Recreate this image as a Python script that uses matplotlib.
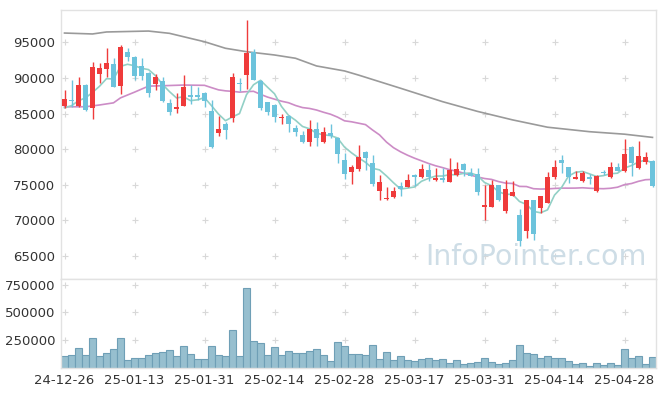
import numpy as np
import pandas as pd
import matplotlib
matplotlib.use("Agg")
import matplotlib.pyplot as plt


# trading days (KRX), 24-12-26 .. 25-05-07
HOLIDAYS = ["2024-12-31", "2025-01-01", "2025-01-27", "2025-01-28", "2025-01-29",
            "2025-01-30", "2025-03-03", "2025-05-01", "2025-05-05", "2025-05-06"]

opens = [86120, 86916, 86121, 89019, 85841, 90514, 91308, 91963, 88925, 93645,
         92944, 91682, 90654, 89112, 89580, 86448, 85654, 86121, 87617, 87570,
         87944, 85374, 82336, 83551, 84439, 89346, 90467, 93598, 89580, 86589,
         86215, 84393, 84673, 83037, 82009, 80935, 82850, 80981, 82243, 81588,
         78504, 76729, 77217, 79575, 78113, 74151, 72972, 73302, 74858, 74717,
         76368, 76038, 77075, 75613, 75896, 75424, 76368, 77925, 76604, 76462,
         71887, 71887, 74953, 71321, 73443, 70708, 68491, 72830, 71745, 72500,
         76038, 78491, 77453, 75849, 75566, 76038, 74057, 76792, 76038, 77453,
         76981, 80283, 77405, 78160, 78302]
highs = [88318, 89720, 90187, 89159, 92196, 92056, 94159, 92757, 94626, 94159,
         93037, 92757, 90794, 90561, 90187, 87009, 87850, 90420, 89019, 88691,
         88084, 86916, 84673, 83878, 90654, 89953, 98131, 94019, 89720, 86682,
         86308, 84953, 84760, 83411, 82616, 84112, 83831, 83177, 83505, 81640,
         79439, 77804, 80613, 79670, 79198, 76368, 74717, 74717, 75424, 76509,
         76462, 77877, 77877, 77311, 77311, 78726, 78160, 78019, 77405, 77311,
         74953, 75660, 75000, 75660, 75566, 71651, 72925, 72900, 73490, 76745,
         78491, 79198, 77500, 76981, 76981, 76509, 76368, 77075, 78255, 78113,
         81415, 80377, 81085, 79575, 78491]
lows = [85750, 85980, 85981, 85420, 84205, 89252, 90187, 88691, 87757, 92430,
        89720, 89720, 87290, 88318, 86682, 84766, 85047, 86100, 86355, 86916,
        85887, 80140, 81869, 81402, 83785, 88178, 88458, 89673, 85514, 84813,
        83785, 83505, 82430, 81916, 80841, 80374, 80374, 80930, 81635, 78037,
        75794, 75140, 76981, 77075, 74858, 72925, 72830, 73160, 73396, 74700,
        74811, 76000, 75566, 75580, 75424, 75330, 76300, 76226, 76180, 73538,
        70000, 71850, 72750, 71085, 73400, 66368, 67547, 67311, 71038, 72400,
        75755, 76604, 75189, 75800, 75424, 75094, 74000, 76368, 75990, 76900,
        76840, 76226, 77217, 77925, 74717]
closes = [87056, 86729, 89019, 85514, 91495, 91355, 92103, 88785, 94346, 92991,
          90327, 90327, 87850, 90093, 86822, 85280, 85888, 88691, 87383, 87383,
          86822, 80233, 82804, 82710, 90093, 89112, 93505, 89766, 85841, 85280,
          84486, 84579, 83551, 82383, 80935, 82850, 81495, 82383, 81869, 79252,
          76448, 77477, 78868, 78726, 75047, 75330, 73208, 74104, 74340, 75660,
          76132, 77217, 76132, 75943, 75707, 77075, 77170, 77075, 76226, 74009,
          72123, 74953, 72830, 74387, 74009, 67076, 72830, 68019, 73396, 76038,
          77453, 78113, 76038, 76132, 76604, 75755, 76274, 76651, 77453, 76981,
          79340, 78113, 79057, 78868, 74858]
volumes = [106500, 115400, 177500, 115400, 266300, 106500, 133100, 168700, 266300, 71000,
           88800, 88800, 115400, 133100, 142000, 159800, 106500, 195300, 124300, 79900,
           79900, 195300, 115400, 106500, 337300, 106500, 719000, 239700, 221900, 115400,
           186400, 115400, 150900, 133100, 133100, 150900, 168700, 115400, 62100, 230800,
           195300, 124300, 124300, 115400, 204200, 79900, 142000, 71000, 106500, 71000,
           62100, 79900, 88800, 71000, 79900, 44400, 71000, 35500, 44400, 53300,
           88800, 53300, 35500, 44400, 71000, 204200, 133100, 124300, 88800, 106500,
           88800, 88800, 62100, 35500, 44400, 17800, 44400, 26600, 44400, 26600,
           168700, 88800, 106500, 35500, 97700]

ma5_head = [85800, 86100, 86800, 87200]
ma20_head_idx = [0, 3, 5, 7, 8, 10, 12, 14, 17]
ma20_head = [85950, 85950, 86200, 86500, 87200, 88000, 88850, 88900, 89000]
ma60_idx = [0, 4, 6, 12, 15, 18, 20, 23, 26, 30, 33, 36, 40, 42, 48, 54, 59, 64, 69, 75, 80, 84]
ma60 = [96300, 96170, 96450, 96580, 96260, 95550, 95080, 94160, 93680, 93220, 92760,
        91680, 90980, 90400, 88550, 86670, 85300, 84110, 83080, 82450, 82100, 81650]

UP = "#ef3b3b"
DOWN = "#6cc3dc"
GRID = "#d8d8d8"
SPINE = "#e2e2e2"


def main():
    days = pd.bdate_range("2024-12-26", "2025-05-07")
    days = days[~days.isin(pd.to_datetime(HOLIDAYS))]
    labels = [d.strftime("%y-%m-%d") for d in days]

    n = len(closes)
    x = np.arange(n)
    o = np.array(opens)
    c = np.array(closes)
    up = c >= o

    close_s = pd.Series(c, dtype=float)
    ma5 = close_s.rolling(5).mean().values
    ma20 = close_s.rolling(20).mean().values

    fig = plt.figure(figsize=(6.65, 3.96), dpi=100)
    ax = fig.add_axes([61 / 665, 1 - 279 / 396, 595 / 665, 269 / 396])
    axv = fig.add_axes([61 / 665, 1 - 368 / 396, 595 / 665, 89 / 396], sharex=ax)

    # price panel
    xticks = list(range(0, n, 10))
    pticks = list(range(65000, 95001, 5000))
    gx, gy = np.meshgrid(xticks, pticks)
    ax.scatter(gx.ravel(), gy.ravel(), marker="+", s=16, c=GRID, linewidths=0.8, zorder=0)

    ax.plot(ma60_idx, ma60, color="#9a9a9a", lw=1.2, zorder=2)
    ax.plot(ma20_head_idx + list(x[19:]), ma20_head + list(ma20[19:]), color="#cc8cc6", lw=1.2, zorder=2)
    ax.plot(x, ma5_head + list(ma5[4:]), color="#92d0c6", lw=1.2, zorder=2)

    colors = np.where(up, UP, DOWN)
    ax.vlines(x, lows, highs, colors=colors, lw=1.0, zorder=3)
    body = np.maximum(np.abs(c - o), 180)
    ax.bar(x, body, bottom=np.minimum(o, c), width=0.72, color=colors, zorder=4)

    ax.text(0.985, 0.03, "InfoPointer.com", transform=ax.transAxes, ha="right", va="bottom",
            fontsize=20.5, color="#c9dae4", alpha=0.9, zorder=5)

    ax.set_xlim(-0.5, n - 0.5)
    ax.set_ylim(61770, 99535)
    ax.set_yticks(pticks)
    ax.set_yticklabels([str(v) for v in pticks])
    ax.tick_params(axis="x", bottom=False, labelbottom=False)

    # volume panel
    vticks = [250000, 500000, 750000]
    gx, gy = np.meshgrid(xticks, vticks)
    axv.scatter(gx.ravel(), gy.ravel(), marker="+", s=16, c=GRID, linewidths=0.8, zorder=0)
    axv.bar(x, volumes, width=1.0, color="#97bfcf", edgecolor="#6f9fb6", lw=0.8, zorder=2)
    axv.set_ylim(0, 800000)
    axv.set_yticks(vticks)
    axv.set_yticklabels([str(v) for v in vticks])
    axv.set_xticks(xticks)
    axv.set_xticklabels([labels[i] for i in xticks])

    for a in (ax, axv):
        for s in a.spines.values():
            s.set_color(SPINE)
            s.set_linewidth(1.0)
        a.tick_params(length=0, labelsize=9.5, colors="#333333", pad=4)

    fig.savefig("out.png", dpi=100)
    plt.close(fig)


if __name__ == "__main__":
    main()
